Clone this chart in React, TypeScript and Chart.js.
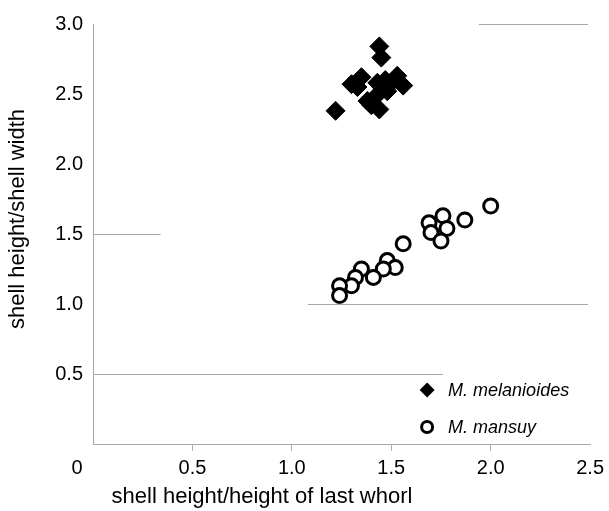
import React, { useEffect, useRef } from 'react';
import { Chart, registerables } from 'chart.js';

Chart.register(...registerables);

const FONT = '"Liberation Sans", Arial, Helvetica, sans-serif';

// M. melanioides (diamonds)
const melanioidesX = [1.22, 1.44, 1.45, 1.30, 1.35, 1.33, 1.40, 1.42, 1.44, 1.45, 1.48, 1.50, 1.53, 1.56, 1.43, 1.38, 1.47];
const melanioidesY = [2.38, 2.84, 2.76, 2.57, 2.62, 2.55, 2.42, 2.48, 2.39, 2.55, 2.52, 2.58, 2.63, 2.56, 2.58, 2.45, 2.60];

// M. mansuy (open circles)
const mansuyX = [2.00, 1.87, 1.76, 1.69, 1.70, 1.78, 1.75, 1.56, 1.48, 1.52, 1.46, 1.41, 1.35, 1.32, 1.30, 1.24, 1.24];
const mansuyY = [1.70, 1.60, 1.63, 1.58, 1.51, 1.54, 1.45, 1.43, 1.31, 1.26, 1.25, 1.19, 1.25, 1.19, 1.13, 1.13, 1.06];

const seriesNames = ['M. melanioides', 'M. mansuy'];
const xTitle = 'shell height/height of last whorl';
const yTitle = 'shell height/shell width';
const xMin = 0, xMax = 2.5, yMin = 0, yMax = 3.0, tickStep = 0.5;

// visible fragments of horizontal gridlines: value, from x, to x
const gridFragmentY = [3.0, 1.5, 1.0, 0.5];
const gridFragmentFrom = [1.94, 0, 1.08, 0];
const gridFragmentTo = [2.49, 0.34, 2.49, 1.76];

const toPoints = (xs: number[], ys: number[]) => xs.map((x, i) => ({ x, y: ys[i] }));

const decorPlugin = {
  id: 'decor',
  beforeDatasetsDraw(chart: any) {
    const { ctx, scales } = chart;
    const x = scales.x, y = scales.y;
    ctx.save();
    ctx.strokeStyle = '#a8a8a8';
    ctx.lineWidth = 1;
    gridFragmentY.forEach((v, i) => {
      const py = Math.round(y.getPixelForValue(v)) + 0.5;
      ctx.beginPath();
      ctx.moveTo(x.getPixelForValue(gridFragmentFrom[i]), py);
      ctx.lineTo(x.getPixelForValue(gridFragmentTo[i]), py);
      ctx.stroke();
    });
    ctx.restore();
  },
  afterDraw(chart: any) {
    const { ctx, chartArea, scales } = chart;
    const x = scales.x;
    ctx.save();
    ctx.fillStyle = '#000';
    // origin label
    ctx.font = `20px ${FONT}`;
    ctx.textAlign = 'center';
    ctx.textBaseline = 'middle';
    ctx.fillText('0', x.getPixelForValue(0) - 16, chartArea.bottom + 24);
    // axis titles
    ctx.font = `22px ${FONT}`;
    ctx.fillText(xTitle, chartArea.left + 169, chartArea.bottom + 53);
    ctx.save();
    ctx.translate(18, chartArea.top + 195);
    ctx.rotate(-Math.PI / 2);
    ctx.fillText(yTitle, 0, 0);
    ctx.restore();
    // legend
    const lx = chartArea.right - 163;
    const ly1 = chartArea.bottom - 54;
    const ly2 = chartArea.bottom - 17;
    ctx.fillStyle = '#000';
    ctx.beginPath();
    ctx.moveTo(lx, ly1 - 7.5);
    ctx.lineTo(lx + 7.5, ly1);
    ctx.lineTo(lx, ly1 + 7.5);
    ctx.lineTo(lx - 7.5, ly1);
    ctx.closePath();
    ctx.fill();
    ctx.beginPath();
    ctx.arc(lx, ly2, 5.5, 0, Math.PI * 2);
    ctx.fillStyle = '#fff';
    ctx.fill();
    ctx.lineWidth = 3;
    ctx.strokeStyle = '#000';
    ctx.stroke();
    ctx.fillStyle = '#000';
    ctx.font = `italic 18px ${FONT}`;
    ctx.textAlign = 'left';
    ctx.fillText(seriesNames[0], lx + 21, ly1 + 1);
    ctx.fillText(seriesNames[1], lx + 21, ly2 + 1);
    ctx.restore();
  },
};

export default function App() {
  const ref = useRef<HTMLCanvasElement | null>(null);
  useEffect(() => {
    document.body.style.margin = '0';
    if (!ref.current) return;
    const chart = new Chart(ref.current, {
      type: 'scatter',
      data: {
        datasets: [
          {
            label: seriesNames[1],
            data: toPoints(mansuyX, mansuyY),
            pointStyle: 'circle',
            pointRadius: 7,
            pointBorderWidth: 3,
            borderColor: '#000',
            backgroundColor: '#fff',
          },
          {
            label: seriesNames[0],
            data: toPoints(melanioidesX, melanioidesY),
            pointStyle: 'rectRot',
            pointRadius: 9.5,
            pointBorderWidth: 1,
            borderColor: '#000',
            backgroundColor: '#000',
          },
        ],
      },
      options: {
        animation: false,
        responsive: true,
        maintainAspectRatio: false,
        layout: { padding: { left: 0, right: 18, top: 24, bottom: 0 } },
        plugins: {
          legend: { display: false },
          tooltip: { enabled: false },
        },
        scales: {
          x: {
            type: 'linear',
            min: xMin,
            max: xMax,
            afterFit: (s: any) => { s.height = 67; },
            ticks: {
              stepSize: tickStep,
              color: '#000',
              font: { family: FONT, size: 20 },
              padding: 5,
              callback: (v: any) => (Number(v) === 0 ? '' : Number(v).toFixed(1)),
            },
            grid: {
              drawOnChartArea: false,
              drawTicks: true,
              tickLength: 7,
              color: (c: any) => (c.tick && (c.tick.value === 0 || c.tick.value === 2.5) ? 'rgba(0,0,0,0)' : '#b0b0b0'),
            },
            border: { display: true, color: '#a8a8a8', width: 1 },
          },
          y: {
            type: 'linear',
            min: yMin,
            max: yMax,
            afterFit: (s: any) => { s.width = 93; },
            ticks: {
              stepSize: tickStep,
              color: '#000',
              font: { family: FONT, size: 20 },
              padding: 10,
              callback: (v: any) => (Number(v) === 0 ? '' : Number(v).toFixed(1)),
            },
            grid: { display: false, drawTicks: false },
            border: { display: true, color: '#a8a8a8', width: 1 },
          },
        },
      },
      plugins: [decorPlugin],
    });
    return () => chart.destroy();
  }, []);
  return (
    <div style={{ position: 'fixed', left: 0, top: 0, width: 609, height: 511, background: '#fff' }}>
      <canvas ref={ref} />
    </div>
  );
}
